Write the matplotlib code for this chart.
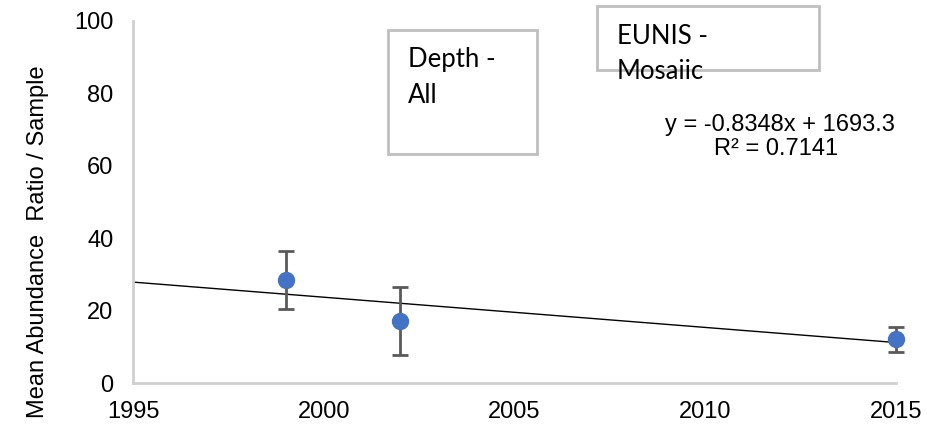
import matplotlib.pyplot as plt
import numpy as np
from matplotlib.patches import Rectangle

years = [1999, 2002, 2015]
mean_ratio = [28.5, 17.2, 12.1]
err = [8.0, 9.4, 3.5]

slope = -0.8348
intercept = 1693.3
eq_text = "y = -0.8348x + 1693.3"
r2_text = "R² = 0.7141"

x_ticks = [1995, 2000, 2005, 2010, 2015]
y_ticks = [0, 20, 40, 60, 80, 100]

fig = plt.figure(figsize=(9.28, 4.28), dpi=100)
ax = fig.add_axes([133 / 928, 45 / 428, 763 / 928, 362 / 428])
ax.set_xlim(1995, 2015)
ax.set_ylim(0, 100)

# trendline
tx = np.array([1995, 2015])
ax.plot(tx, slope * tx + intercept, color='black', linewidth=1.0, zorder=2)

ax.errorbar(years, mean_ratio, yerr=err, fmt='o', color='#4472C4',
            markersize=11.5, ecolor='#595959', elinewidth=2, capsize=6,
            capthick=2, zorder=3, clip_on=False)

ax.set_xticks(x_ticks)
ax.set_yticks(y_ticks)
ax.tick_params(axis='both', length=0, labelsize=17, colors='#000000')
ax.tick_params(axis='x', pad=13)
ax.tick_params(axis='y', pad=14)
for lab in ax.get_xticklabels() + ax.get_yticklabels():
    lab.set_fontfamily('Liberation Sans')

for s in ['top', 'right']:
    ax.spines[s].set_visible(False)
for s in ['bottom', 'left']:
    ax.spines[s].set_color('#d0d0d0')
    ax.spines[s].set_linewidth(2)

fig.text(38 / 928, 1 - 242 / 428, "Mean Abundance  Ratio / Sample", rotation=90,
         ha='center', va='center', fontsize=17, family='Liberation Sans')

# text boxes
box_kw = dict(fill=False, edgecolor='#bfbfbf', linewidth=2, transform=None)
fig.patches.append(Rectangle((388, 428 - 154), 149, 124, **box_kw))
fig.patches.append(Rectangle((597, 428 - 70), 222, 64, **box_kw))

box_font = dict(fontsize=18.5, family='Lato', va='baseline')
fig.text(408 / 928, 1 - 67 / 428, "Depth -", **box_font)
fig.text(408 / 928, 1 - 103 / 428, "All", **box_font)
fig.text(617 / 928, 1 - 44 / 428, "EUNIS -", **box_font)
fig.text(617 / 928, 1 - 79 / 428, "Mosaiic", **box_font)

fig.text(780 / 928, 1 - 131 / 428, eq_text, fontsize=17, family='Liberation Sans',
         ha='center', va='baseline')
fig.text(776 / 928, 1 - 155 / 428, r2_text, fontsize=17, family='Liberation Sans',
         ha='center', va='baseline')

fig.savefig('out.png', dpi=100)
